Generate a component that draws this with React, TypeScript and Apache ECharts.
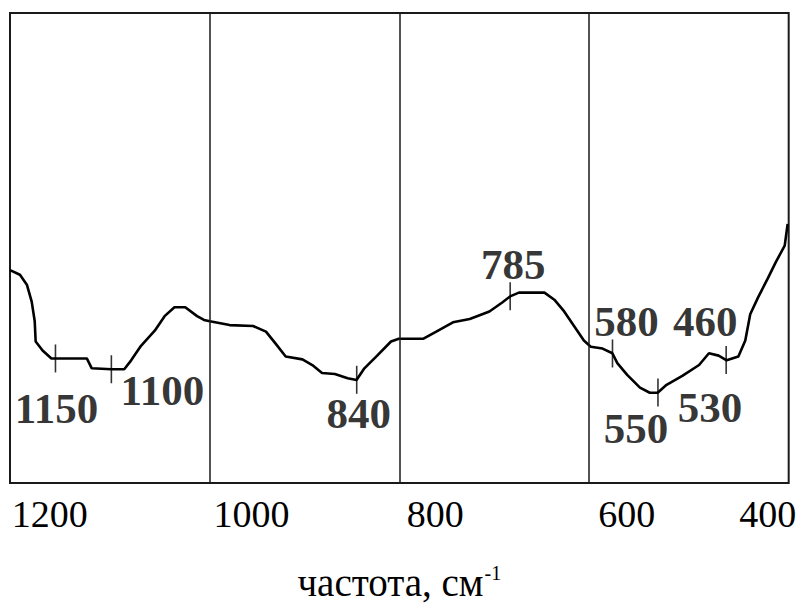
import React, { useEffect, useRef } from "react";
import * as echarts from "echarts";

// Spectrum trace (wavenumber, cm^-1) and relative transmittance (arbitrary units)
const waveNumbers = [
  1211, 1200.5, 1193.2, 1188.1, 1184.9, 1183.9, 1176.6, 1167.3, 1163.1, 1129.9,
  1124.7, 1103.9, 1090.4, 1083.1, 1072.7, 1058.2, 1047.8, 1037.4, 1026.0, 1013.5,
  1006.2, 1000, 979.2, 954.3, 940.8, 930.4, 920.0, 902.3, 891.9, 881.6,
  868.1, 854.5, 845.2, 836.9, 823.4, 808.8, 800.5, 774.5, 761.0, 743.4,
  725.7, 704.9, 691.4, 683.1, 673.8, 660.3, 646.8, 636.4, 626.0, 615.6,
  605.2, 597.9, 585.5, 575.1, 569.9, 559.5, 546.0, 535.6, 527.3, 517.9,
  501.3, 483.6, 473.2, 462.9, 454.5, 442.1, 434.8, 429.6, 421.3, 410.9,
  402.6, 393.2, 390.1,
];
const transmittance = [
  45.3, 44.3, 42.2, 38.6, 34.4, 30.1, 28.2, 26.5, 26.5, 26.5,
  24.4, 24.2, 24.2, 26.1, 29.2, 32.4, 35.5, 37.4, 37.4, 35.5,
  34.7, 34.4, 33.6, 33.4, 32.2, 29.6, 26.9, 26.3, 25.1, 23.4,
  23.2, 22.3, 21.9, 24.4, 27.1, 30.1, 30.7, 30.7, 32.2, 34.2,
  34.9, 36.5, 38.4, 39.7, 40.5, 40.5, 40.5, 39.0, 36.5, 33.4,
  30.3, 29.0, 28.6, 27.6, 25.5, 23.0, 20.3, 19.2, 19.2, 20.9,
  22.8, 25.1, 27.6, 27.1, 26.1, 26.9, 30.3, 35.9, 39.5, 43.6,
  47.0, 50.5, 55.1,
];

// Peak markers (wavenumber positions of the small vertical ticks)
const peakPositions = [1163, 1104, 845, 683, 575, 527, 455];

// Peak annotations: text and the marker they belong to
const annotationTexts = ["1150", "1100", "840", "785", "580", "550", "530", "460"];
const annotationAnchors = [1163, 1104, 845, 683, 575, 527, 527, 455];

// Vertical grid lines
const gridLinePositions = [1000, 800, 600];

// Axis tick labels (texts and where they are printed along the axis)
const tickLabels = ["1200", "1000", "800", "600", "400"];
const tickLabelPositions = [1169, 956, 762, 560, 411];

const axisTitle = "частота, см";
const axisTitleSup = "-1";

// label offsets in pixels relative to the anchor point (style only)
const annotationOffsets: [number, number][] = [
  [1, 50],
  [51, 21],
  [2, 34],
  [3, -32],
  [14, -32],
  [-22, 36],
  [52, 15],
  [-21, -39],
];

function curveAt(x: number): number {
  for (let i = 0; i < waveNumbers.length - 1; i++) {
    const a = waveNumbers[i];
    const b = waveNumbers[i + 1];
    if ((x <= a && x >= b) || (x >= a && x <= b)) {
      const t = a === b ? 0 : (x - a) / (b - a);
      return transmittance[i] + t * (transmittance[i + 1] - transmittance[i]);
    }
  }
  return transmittance[transmittance.length - 1];
}

const SERIF = "'Liberation Serif', 'Times New Roman', serif";

export default function App() {
  const ref = useRef<HTMLDivElement>(null);

  useEffect(() => {
    if (!ref.current) return;
    const chart = echarts.init(ref.current, undefined, { renderer: "svg" });

    const lineData = waveNumbers.map((w, i) => [w, transmittance[i]]);
    const markerData = peakPositions.map((p) => [p, curveAt(p)]);
    const annData = annotationTexts.map((t, i) => ({
      value: [annotationAnchors[i], curveAt(annotationAnchors[i])],
      name: t,
      label: {
        show: true,
        formatter: t,
        position: "inside",
        offset: annotationOffsets[i],
      },
    }));

    chart.setOption({
      animation: false,
      backgroundColor: "#ffffff",
      grid: {
        left: 10,
        right: 10,
        top: 13,
        bottom: 115,
        show: true,
        borderColor: "#1a1a1a",
        borderWidth: 2,
        backgroundColor: "transparent",
      },
      xAxis: {
        type: "value",
        inverse: true,
        min: 389,
        max: 1211,
        axisLine: { show: false },
        axisTick: { show: false },
        splitLine: { show: false },
        axisLabel: {
          customValues: tickLabelPositions,
          formatter: (v: number) => {
            const idx = tickLabelPositions.findIndex((p) => Math.abs(p - v) < 0.5);
            return idx >= 0 ? tickLabels[idx] : "";
          },
          color: "#000",
          fontFamily: SERIF,
          fontSize: 38,
          margin: 12,
        },
        name: `{base|${axisTitle}}{sup|${axisTitleSup}}`,
        nameLocation: "middle",
        nameGap: 80,
        nameTextStyle: {
          rich: {
            base: { fontFamily: SERIF, fontSize: 39, color: "#000" },
            sup: {
              fontFamily: SERIF,
              fontSize: 20,
              color: "#000",
              verticalAlign: "top",
              padding: [0, 0, 0, 1],
            },
          },
        },
      },
      yAxis: {
        type: "value",
        min: 0,
        max: 100,
        show: false,
      },
      series: [
        {
          type: "line",
          data: lineData,
          showSymbol: false,
          symbol: "none",
          lineStyle: { color: "#000", width: 2.6 },
          silent: true,
          markLine: {
            silent: true,
            symbol: "none",
            label: { show: false },
            lineStyle: { color: "#1a1a1a", width: 1.5, type: "solid" },
            data: gridLinePositions.map((g) => ({ xAxis: g })),
          },
          z: 3,
        },
        {
          type: "scatter",
          data: markerData,
          symbol: "rect",
          symbolSize: [1.6, 28],
          itemStyle: { color: "#000" },
          silent: true,
          z: 4,
        },
        {
          type: "scatter",
          data: annData,
          symbolSize: 0,
          itemStyle: { color: "transparent" },
          label: {
            show: true,
            color: "#000",
            fontFamily: SERIF,
            fontWeight: "bold",
            fontSize: 43,
            align: "center",
            verticalAlign: "middle",
          },
          silent: true,
          z: 5,
        },
      ],
    });

    return () => {
      chart.dispose();
    };
  }, []);

  return (
    <div
      ref={ref}
      style={{ position: "fixed", left: 0, top: 0, width: 811, height: 607, background: "#fff" }}
    />
  );
}
